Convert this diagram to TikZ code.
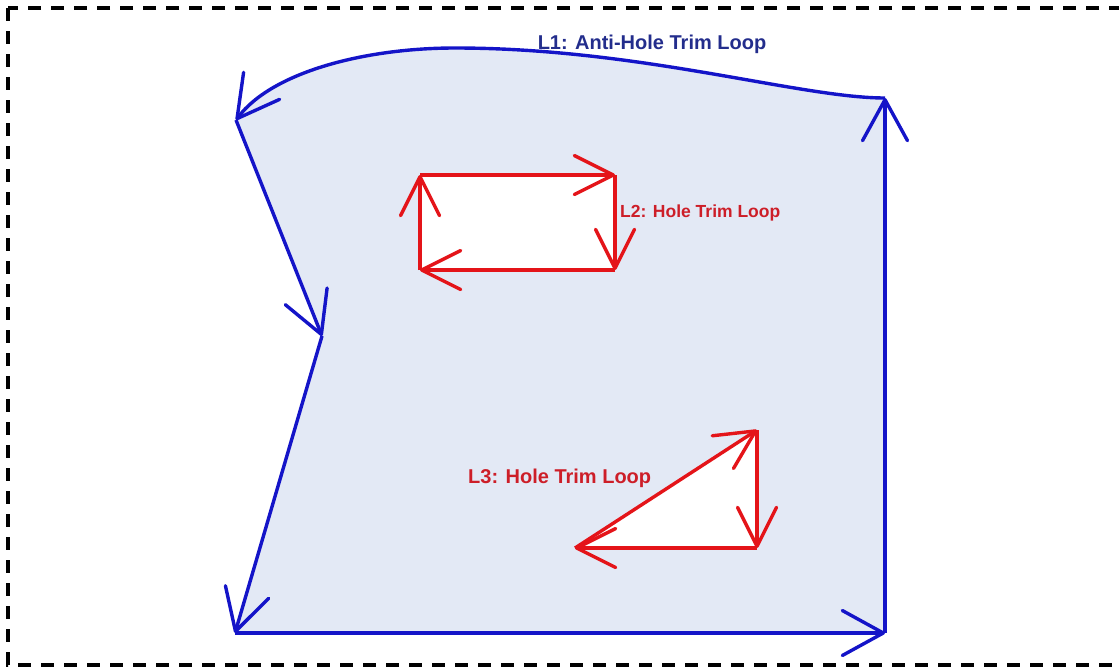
\documentclass[tikz,border=0pt]{standalone}
\usepackage{fontspec}
\setmainfont{Liberation Sans}
\usetikzlibrary{arrows.meta}
\definecolor{regionfill}{RGB}{227,233,245}
\definecolor{loopblue}{RGB}{20,20,200}
\definecolor{labelblue}{RGB}{35,45,140}
\definecolor{loopred}{RGB}{228,20,25}
\definecolor{labelred}{RGB}{205,30,40}
\begin{document}
\begin{tikzpicture}[x=1pt,y=-1pt,
  blueloop/.style={draw=loopblue,line width=3.4pt,line join=round,
    -{Straight Barb[round,length=41pt,width=45pt,line width=3.4pt]}},
  redloop/.style={draw=loopred,line width=3.4pt,line join=round,
    -{Straight Barb[round,length=39pt,width=39pt,line width=3.4pt]}},
  looplabel/.style={inner sep=0pt,font=\bfseries}]
\useasboundingbox (0,0) rectangle (1119,667);
\clip (0,0) rectangle (1119,667);
% frame
\draw[black,line width=3.3pt,dash pattern=on 13pt off 10pt] (8,8) rectangle (1150,665);
% loop L1 corners
\coordinate (A) at (236,120);
\coordinate (B) at (322,336);
\coordinate (C) at (235,633);
\coordinate (D) at (885,633);
\coordinate (E) at (885,98);
\coordinate (P) at (455,48);
% loop L2 corners
\coordinate (R1) at (420,175);
\coordinate (R2) at (615,175);
\coordinate (R3) at (615,270);
\coordinate (R4) at (420,270);
% loop L3 corners
\coordinate (T1) at (757,430);
\coordinate (T2) at (757,548);
\coordinate (T3) at (575,548);
% fills
\fill[regionfill] (E) .. controls (800,98) and (640,48) .. (P)
  .. controls (365,48) and (272,72) .. (A) -- (B) -- (C) -- (D) -- cycle;
\fill[white] (R1) -- (R2) -- (R3) -- (R4) -- cycle;
\fill[white] (T1) -- (T2) -- (T3) -- cycle;
% L1 edges
\draw[blueloop] (E) .. controls (800,98) and (640,48) .. (P)
  .. controls (365,48) and (272,72) .. (A);
\draw[blueloop] (A) -- (B);
\draw[blueloop] (B) -- (C);
\draw[blueloop] (C) -- (D);
\draw[blueloop] (D) -- (E);
% L2 edges
\draw[redloop] (R4) -- (R1);
\draw[redloop] (R1) -- (R2);
\draw[redloop] (R2) -- (R3);
\draw[redloop] (R3) -- (R4);
% L3 edges
\draw[redloop] (T3) -- (T1);
\draw[redloop] (T1) -- (T2);
\draw[redloop] (T2) -- (T3);
% labels
\node[looplabel,text=labelblue,anchor=base,font=\fontsize{20}{24}\selectfont\bfseries] (l1) at (652,49) {L1: Anti-Hole Trim Loop};
\node[looplabel,text=labelred,anchor=base west,font=\fontsize{17.5}{21}\selectfont\bfseries] (l2) at (620,217) {L2: Hole Trim Loop};
\node[looplabel,text=labelred,anchor=base west,font=\fontsize{20}{24}\selectfont\bfseries] (l3) at (468,483) {L3: Hole Trim Loop};
\end{tikzpicture}
\end{document}
